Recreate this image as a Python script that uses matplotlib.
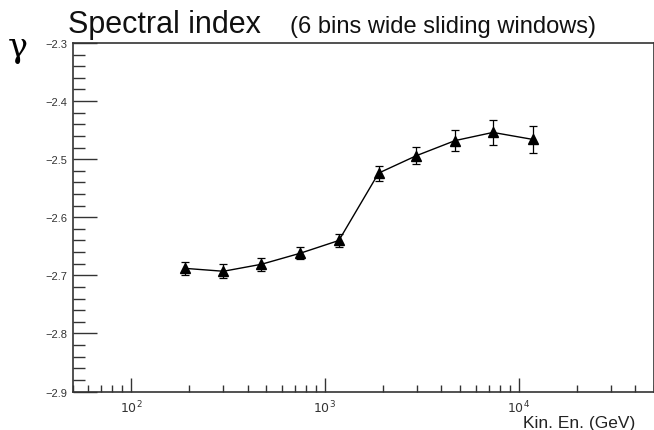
import numpy as np
import matplotlib
matplotlib.use("Agg")
import matplotlib.pyplot as plt
from matplotlib.ticker import FixedLocator, LogLocator, NullFormatter, MultipleLocator

plt.rcParams['font.family'] = ['Liberation Sans', 'DejaVu Sans']

# spectral index in sliding windows
energy = [190, 300, 471, 747, 1183, 1897, 2973, 4712, 7380, 11830]
gamma = [-2.688, -2.693, -2.681, -2.662, -2.640, -2.524, -2.494, -2.468, -2.454, -2.466]
gamma_err = [0.0115, 0.012, 0.0115, 0.010, 0.012, 0.013, 0.015, 0.018, 0.021, 0.023]

y_ticks = [-2.9, -2.8, -2.7, -2.6, -2.5, -2.4, -2.3]
y_tick_labels = ['\u22122.9', '\u22122.8', '\u22122.7', '\u22122.6', '\u22122.5', '\u22122.4', '\u22122.3']
x_ticks = [1e2, 1e3, 1e4]
x_tick_labels = ['$10^{2}$', '$10^{3}$', '$10^{4}$']

fig = plt.figure(figsize=(6.54, 4.31), dpi=100)
ax = fig.add_axes([0.111, 0.0893, 0.889, 0.8087])

ax.errorbar(energy, gamma, yerr=gamma_err, fmt='^-', color='black',
            markersize=7, linewidth=1.0, elinewidth=0.9, capsize=3, capthick=0.9)

ax.set_xscale('log')
ax.set_xlim(50, 5e4)
ax.set_ylim(-2.9, -2.3)

ax.yaxis.set_major_locator(FixedLocator(y_ticks))
ax.set_yticklabels(y_tick_labels)
ax.yaxis.set_minor_locator(MultipleLocator(0.02))
ax.xaxis.set_major_locator(FixedLocator(x_ticks))
ax.set_xticklabels(x_tick_labels)
ax.xaxis.set_minor_locator(LogLocator(base=10, subs=np.arange(2, 10)))
ax.xaxis.set_minor_formatter(NullFormatter())

ax.tick_params(axis='y', which='major', direction='in', length=17, width=1.0,
               labelsize=8, colors='#333333', pad=4, right=False)
ax.tick_params(axis='y', which='minor', direction='in', length=8.5, width=1.0,
               colors='#333333', right=False)
ax.tick_params(axis='x', which='major', direction='in', length=10, width=1.0,
               labelsize=9, colors='#333333', pad=5, top=False)
ax.tick_params(axis='x', which='minor', direction='in', length=5, width=1.0,
               colors='#333333', top=False)
for side in ['left', 'bottom', 'top', 'right']:
    ax.spines[side].set_color('#333333')
    ax.spines[side].set_linewidth(1.2)

# title in two sizes, gamma symbol as y label, energy label bottom right
fig.text(0.104, 0.923, 'Spectral index', fontsize=22, ha='left', va='baseline', color='#111111')
fig.text(0.443, 0.923, '(6 bins wide sliding windows)', fontsize=17, ha='left', va='baseline', color='#111111')
fig.text(0.012, 0.888, '\u03b3', fontsize=24, family=['DejaVu Serif'], ha='left', va='center')
fig.text(0.972, 0.008, 'Kin. En. (GeV)', fontsize=12.5, ha='right', va='baseline', color='#222222')

fig.savefig('out.png', dpi=100)
